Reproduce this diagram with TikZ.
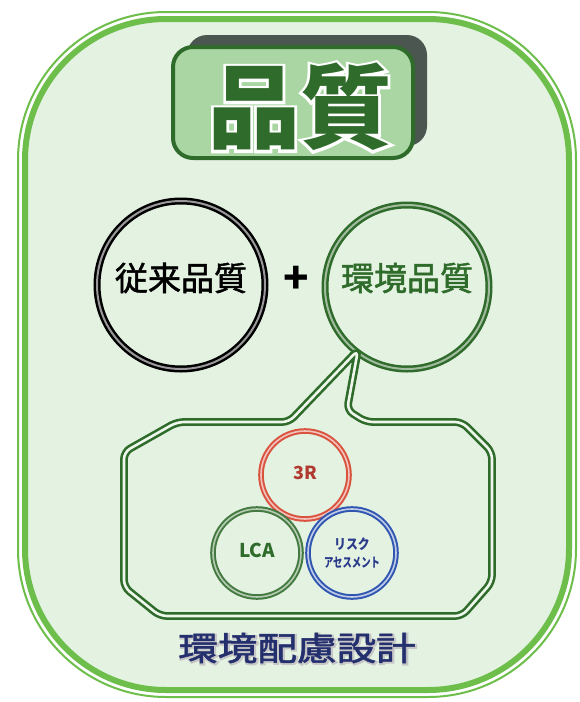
\documentclass[tikz,border=0pt]{standalone}
\usepackage{fontspec}
\usepackage{graphicx}
\newfontfamily\jp{Noto Sans CJK JP}
\newfontfamily\jpm{Noto Sans CJK JP}[FakeBold=1.6]
\newfontfamily\jpoutA{Noto Sans CJK JP}[FakeBold=6]
\newfontfamily\jpoutB{Noto Sans CJK JP}[FakeBold=8]
\definecolor{bgfill}{HTML}{E4F2E2}
\definecolor{framegreen}{HTML}{6DBE4B}
\definecolor{titlefill}{HTML}{A9D6A3}
\definecolor{darkgreen}{HTML}{2F6B2A}
\definecolor{shadowgray}{HTML}{4B5650}
\definecolor{gapgreen}{HTML}{EEF7EC}
\definecolor{ringred}{HTML}{D9533F}
\definecolor{txtred}{HTML}{B03A30}
\definecolor{ringblue}{HTML}{2F56B0}
\definecolor{txtblue}{HTML}{2A3A8A}
\definecolor{navy}{HTML}{24306E}
\tikzset{
  bigring/.style={circle, minimum size=#1, line width=2.5pt, double distance=2pt, inner sep=0pt},
  smallring/.style={circle, minimum size=88pt, line width=2pt, double distance=1.6pt, inner sep=0pt},
  jptext/.style={font=\jp, inner sep=0pt},
}
\begin{document}
\begin{tikzpicture}[x=1pt,y=-1pt]
\useasboundingbox[fill=white] (0,0) rectangle (580,702);
% outer frame
\draw[framegreen, line width=2pt, rounded corners=148pt] (18,12) rectangle (576,697);
\draw[framegreen, fill=bgfill, line width=6pt, rounded corners=141pt] (25,19) rectangle (569,690);
% title box
\fill[shadowgray, rounded corners=20pt] (187,35) rectangle (427,146);
\node[draw=darkgreen, fill=titlefill, line width=4pt, rounded corners=20pt,
      minimum width=240pt, minimum height=111pt] (titlebox) at (293,102.5) {};
\node[jptext, text=white, font=\jpoutA\bfseries\fontsize{92}{92}\selectfont] (titleoutline) at (300,107) {品質};
\node[jptext, text=darkgreen, font=\jp\bfseries\fontsize{92}{92}\selectfont] (title) at (300,107) {品質};
% two circles
\node[bigring=168pt, draw=black, double=black!40] (c1) at (181,285) {};
\node[bigring=164pt, draw=darkgreen, double=darkgreen!45] (c2) at (407,287) {};
\node[jptext, font=\jpm\fontsize{33}{33}\selectfont] (t1) at (c1.center) [yshift=7pt] {従来品質};
\node[jptext, text=darkgreen, font=\jpm\fontsize{33}{33}\selectfont] (t2) at (c2.center) [yshift=9pt] {環境品質};
\node[jptext, font=\jp\bfseries\fontsize{42}{42}\selectfont] (plus) at (296,280) {+};
% speech bubble
\coordinate (tip) at (358,350);
\draw[darkgreen, line width=2.6pt, double=gapgreen, double distance=2.6pt, rounded corners=7pt]
  (177,422) -- (289,422) -- (tip) -- (347,410) -- (366,422) -- (462,422) -- (492,452)
  -- (492,582) -- (462,616) -- (160,616) -- (124,587) -- (124,452) -- cycle;
% small circles
\node[smallring, draw=ringred, double=ringred!35] (r3) at (305,475) {};
\node[smallring, draw=darkgreen!90, double=darkgreen!35] (lca) at (257,553) {};
\node[smallring, draw=ringblue, double=ringblue!30] (risk) at (352,553) {};
\node[jptext, text=txtred, font=\jp\bfseries\fontsize{18}{18}\selectfont] (t3r) at (r3.center) [yshift=2pt] {3R};
\node[jptext, text=darkgreen, font=\jp\bfseries\fontsize{19}{19}\selectfont] (tlca) at (lca.center) [yshift=3pt] {LCA};
\node[jptext, text=txtblue, font=\jp\bfseries\fontsize{14}{14}\selectfont] (trisk1) at (352,544) {\scalebox{0.85}[1]{リスク}};
\node[jptext, text=txtblue, font=\jp\bfseries\fontsize{13}{13}\selectfont] (trisk2) at (352,563) {\scalebox{0.72}[1]{アセスメント}};
% bottom label
\node[jptext, text=white!78!black, font=\jpoutB\fontsize{33}{33}\selectfont] (bottomoutline) at (298,649) {\scalebox{1.2}[1]{環境配慮設計}};
\node[jptext, text=navy, font=\jpm\fontsize{33}{33}\selectfont] (bottom) at (297,648) {\scalebox{1.2}[1]{環境配慮設計}};
\end{tikzpicture}
\end{document}
